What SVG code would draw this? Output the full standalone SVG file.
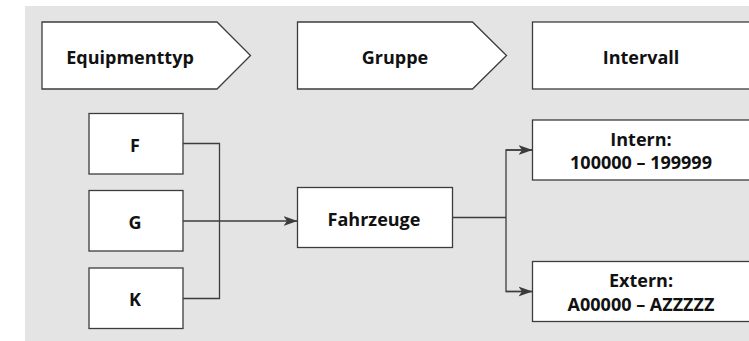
<svg xmlns="http://www.w3.org/2000/svg" width="749" height="341" viewBox="0 0 749 341">
<style>
.box{fill:#fff;stroke:#3c3c3c;stroke-width:1.3}
.t{font-family:"Open Sans","Noto Sans",sans-serif;font-weight:bold;font-size:18px;fill:#111;text-anchor:middle}
.c{fill:none;stroke:#3c3c3c;stroke-width:1.3}
</style>
<defs>
<marker id="ah" markerWidth="15" markerHeight="11" refX="14" refY="5.5" orient="auto" markerUnits="userSpaceOnUse">
<path d="M0,0.5 L14,5.5 L0,10.5 L3.5,5.5 Z" fill="#3c3c3c"/>
</marker>
</defs>
<rect x="25" y="6" width="724" height="335" fill="#e3e4e3"/>
<g id="hdr-equipmenttyp"><path class="box" d="M42,22 H217 L250.5,55.5 L217,89 H42 Z"/><text class="t" x="130" y="64">Equipmenttyp</text></g>
<g id="hdr-gruppe"><path class="box" d="M297.5,22 H472.5 L506.5,55.5 L472.5,89 H297.5 Z"/><text class="t" x="395" y="64">Gruppe</text></g>
<g id="hdr-intervall"><rect class="box" x="532.5" y="22" width="230" height="67"/><text class="t" x="641" y="64">Intervall</text></g>
<g id="node-f"><rect class="box" x="89" y="113.5" width="94" height="60.5"/><text class="t" x="135" y="152">F</text></g>
<g id="node-g"><rect class="box" x="89" y="190.5" width="94" height="60.5"/><text class="t" x="135" y="229">G</text></g>
<g id="node-k"><rect class="box" x="89" y="268" width="94" height="60.5"/><text class="t" x="135" y="306">K</text></g>
<g id="node-fahrzeuge"><rect class="box" x="297.5" y="187.5" width="155" height="60"/><text class="t" x="374" y="226">Fahrzeuge</text></g>
<g id="node-intern"><rect class="box" x="532.5" y="120" width="230" height="60"/><text class="t" x="641" y="146">Intern:</text><text class="t" x="641" y="168.5">100000 – 199999</text></g>
<g id="node-extern"><rect class="box" x="532.5" y="261.5" width="230" height="60"/><text class="t" x="641" y="287">Extern:</text><text class="t" x="641" y="311">A00000 – AZZZZZ</text></g>
<g id="connectors">
<path class="c" d="M183,143.5 H219.5 V298.5 H183"/>
<path class="c" d="M183,221 H297.5" marker-end="url(#ah)"/>
<path class="c" d="M452.5,217.5 H506"/>
<path class="c" d="M532.5,150 H506 V291.5 H532.5"/>
<path class="c" d="M506,150 H532.5" marker-end="url(#ah)"/>
<path class="c" d="M506,291.5 H532.5" marker-end="url(#ah)"/>
</g>
</svg>
